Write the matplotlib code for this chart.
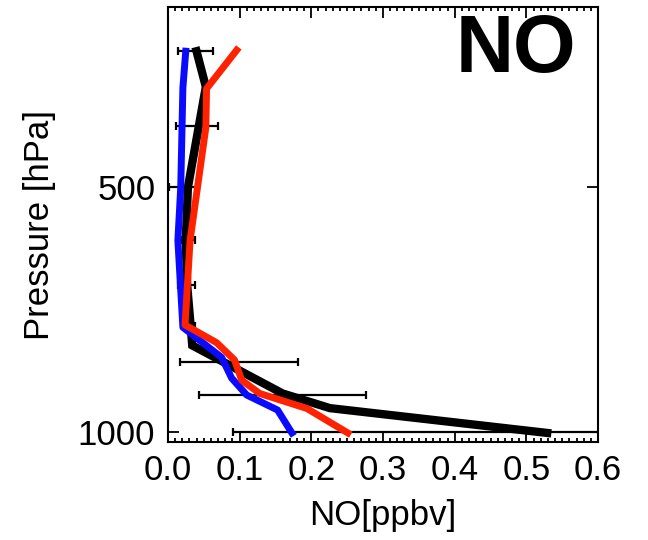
import matplotlib.pyplot as plt
from matplotlib.ticker import MultipleLocator, NullLocator, FixedLocator
import numpy as np

plt.rcParams['font.family'] = ['Liberation Sans', 'DejaVu Sans']

# profils NO (ppbv) en fonction de la pression (hPa)
p_obs = [340, 376, 500, 581, 660, 743, 782, 896, 934, 1002]
no_obs = [0.040, 0.053, 0.028, 0.025, 0.027, 0.032, 0.034, 0.160, 0.226, 0.529]

p_blue = [340, 377, 500, 581, 743, 809, 858, 900, 939, 1002]
no_blue = [0.025, 0.021, 0.018, 0.014, 0.021, 0.075, 0.089, 0.110, 0.153, 0.173]

p_red = [339, 378, 422, 581, 738, 776, 815, 863, 896, 935, 1002]
no_red = [0.096, 0.054, 0.053, 0.031, 0.024, 0.068, 0.093, 0.103, 0.128, 0.194, 0.251]

# barres d'erreur (min / max)
p_err = [340, 420, 500, 580, 660, 740, 820, 900, 1000]
err_lo = [0.014, 0.011, 0.002, 0.018, 0.014, 0.021, 0.017, 0.043, 0.091]
err_hi = [0.063, 0.070, 0.043, 0.038, 0.038, 0.038, 0.181, 0.276, 0.97]

xticks = [0.0, 0.1, 0.2, 0.3, 0.4, 0.5, 0.6]
yticks = [500, 1000]

lo = np.array(err_lo)
hi = np.array(err_hi)

fig = plt.figure(figsize=(6.48, 5.40), dpi=100)
ax = fig.add_axes([0.259, 0.1815, 0.664, 0.8055])

ax.errorbar((lo + hi) / 2, p_err, xerr=(hi - lo) / 2, fmt='none',
            ecolor='k', elinewidth=1.6, capsize=3, capthick=1.6, zorder=1)
ax.plot(no_obs, p_obs, color='k', lw=6, solid_joinstyle='miter', zorder=2)
ax.plot(no_blue, p_blue, color='#0a0aff', lw=5, zorder=3)
ax.plot(no_red, p_red, color='#ff2200', lw=5, zorder=4)

ax.set_yscale('log')
ax.set_ylim(1028, 300)
ax.set_xlim(0, 0.6)
ax.yaxis.set_major_locator(FixedLocator(yticks))
ax.yaxis.set_minor_locator(NullLocator())
ax.set_yticklabels([str(v) for v in yticks])
ax.xaxis.set_major_locator(FixedLocator(xticks))
ax.xaxis.set_minor_locator(MultipleLocator(0.01))
ax.set_xticklabels(['%.1f' % v for v in xticks])

ax.tick_params(which='both', direction='in', top=True, right=True, width=1.3)
ax.tick_params(which='major', length=8, labelsize=25, pad=9)
ax.tick_params(which='minor', length=3)
for s in ax.spines.values():
    s.set_linewidth(1.5)

ax.set_xlabel('NO[ppbv]', fontsize=25, labelpad=8)
ax.set_ylabel('Pressure [hPa]', fontsize=25, labelpad=16)
ax.text(0.81, 0.9, 'NO', transform=ax.transAxes, fontsize=58,
        fontweight='bold', ha='center', va='center')

fig.savefig('out.png', dpi=100)
